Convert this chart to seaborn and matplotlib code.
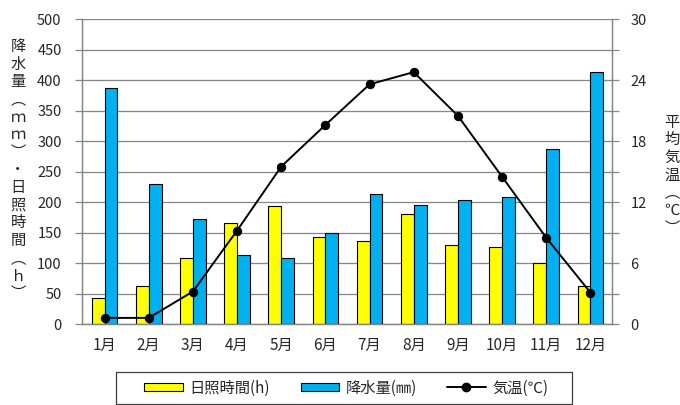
import numpy as np
import pandas as pd
import seaborn as sns
import matplotlib.pyplot as plt
from matplotlib.patches import Patch, Rectangle
from matplotlib.lines import Line2D
from matplotlib.ticker import MultipleLocator, FixedLocator

sns.set_style('white')
plt.rcParams['font.family'] = ['Noto Sans CJK JP', 'DejaVu Sans']

#%% data
months = ['1月', '2月', '3月', '4月', '5月', '6月',
          '7月', '8月', '9月', '10月', '11月', '12月']
sunshine = [42, 62, 108, 165, 194, 142, 136, 181, 129, 127, 100, 62]      # h
precip = [388, 229, 173, 114, 109, 150, 214, 195, 204, 208, 288, 413]     # mm
temp = [0.6, 0.6, 3.2, 9.2, 15.5, 19.6, 23.6, 24.8, 20.5, 14.5, 8.5, 3.1]  # degC

lab_sun = '日照時間(h)'
lab_pre = '降水量(㎜)'
lab_tmp = '気温(℃)'

df_bar = pd.DataFrame({'month': months * 2,
                       'value': sunshine + precip,
                       'series': [lab_sun] * 12 + [lab_pre] * 12})
df_tmp = pd.DataFrame({'month': months, 'temp': temp})

grid_c = '#868686'
W, H = 680, 405
fig = plt.figure(figsize=(6.8, 4.05), dpi=100)
ax = fig.add_axes([0.1213, 0.2, 0.7794, 0.7523])

sns.barplot(data=df_bar, x='month', y='value', hue='series', order=months,
            palette={lab_sun: '#FFFF00', lab_pre: '#00B0F0'}, saturation=1,
            width=0.58, gap=0, edgecolor='black', linewidth=0.8,
            legend=False, ax=ax, zorder=2)
ax.set_xlim(-0.5, 11.5)
ax.set_ylim(0, 500)
ax.yaxis.set_major_locator(MultipleLocator(50))
ax.set_axisbelow(True)
ax.grid(axis='y', color=grid_c, linewidth=0.9)
ax.grid(axis='x', visible=False)
ax.set_xlabel('')
ax.set_ylabel('')
ax.xaxis.set_minor_locator(FixedLocator(np.arange(-0.5, 12, 1)))
ax.tick_params(axis='x', which='major', length=0, pad=9, labelsize=11)
ax.tick_params(axis='x', which='minor', length=5, color=grid_c, width=0.9)
ax.tick_params(axis='y', length=5, color=grid_c, width=0.9, pad=10, labelsize=10.5, left=True)

ax2 = ax.twinx()
sns.lineplot(data=df_tmp, x='month', y='temp', color='black', linewidth=1.4,
             marker='o', markersize=6, markeredgecolor='black', ax=ax2, sort=False)
ax2.set_ylim(0, 30)
ax2.set_xlim(-0.5, 11.5)
ax2.set_yticks(np.arange(0, 31, 3))
ax2.set_yticklabels([str(v) if v % 6 == 0 else '' for v in range(0, 31, 3)])
ax2.set_ylabel('')
ax2.tick_params(axis='y', length=5, color=grid_c, width=0.9, pad=8, labelsize=10.5, right=True)

for a in (ax, ax2):
    for s in a.spines.values():
        s.set_color(grid_c)
        s.set_linewidth(0.9)
    a.spines['top'].set_visible(False)

# stacked vertical axis titles
fig.text(18 / W, 1 - 170 / H,
         '\n'.join(['降', '水', '量', '︵', 'ｍ', 'ｍ', '︶', '・', '日', '照', '時', '間', '︵', 'ｈ', '︶']),
         ha='center', va='center', fontsize=11, linespacing=1.05)
fig.text(672 / W, 1 - 175 / H,
         '\n'.join(['平', '均', '気', '温', '︵', '℃', '︶']),
         ha='center', va='center', fontsize=11, linespacing=1.05)

# legend: frame drawn as its own box, entries centred inside
x0, x1, y0, y1 = 115.7, 571.7, 371.7, 404
fig.patches.append(Rectangle((x0 / W, 1 - y1 / H), (x1 - x0) / W, (y1 - y0) / H,
                             transform=fig.transFigure, facecolor='white',
                             edgecolor='#404040', linewidth=0.9))
handles = [Patch(facecolor='#FFFF00', edgecolor='black', linewidth=0.8),
           Patch(facecolor='#00B0F0', edgecolor='black', linewidth=0.8),
           Line2D([], [], color='black', linewidth=1.4, marker='o', markersize=6)]
leg = fig.legend(handles, [lab_sun, lab_pre, lab_tmp], ncol=3, loc='center',
                 bbox_to_anchor=((x0 + x1) / 2 / W + 0.004, 1 - (y0 + y1) / 2 / H),
                 fontsize=11, frameon=False, handlelength=2.5,
                 handleheight=0.5, handletextpad=0.45, columnspacing=2.0)

fig.savefig('out.png', dpi=100)
